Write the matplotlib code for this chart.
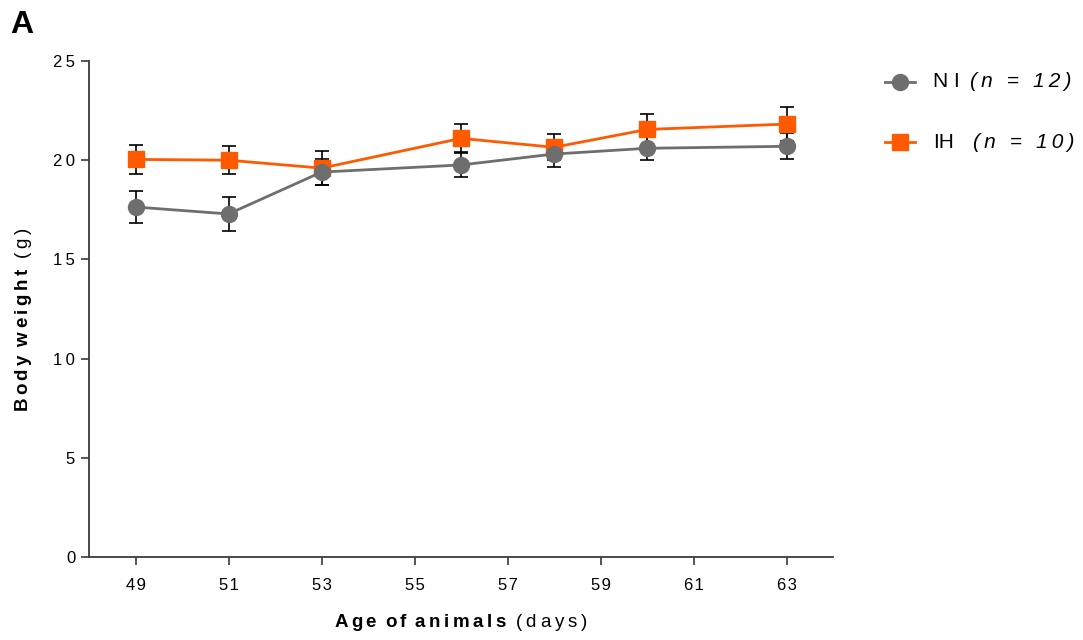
import matplotlib
matplotlib.use("Agg")
import matplotlib.pyplot as plt
from matplotlib.lines import Line2D

plt.rcParams['font.family'] = ['Liberation Sans', 'DejaVu Sans']
plt.rcParams['mathtext.fontset'] = 'custom'
plt.rcParams['mathtext.rm'] = 'Liberation Sans'
plt.rcParams['mathtext.it'] = 'Liberation Sans:italic'
plt.rcParams['mathtext.bf'] = 'Liberation Sans:bold'

# ---- data ----
days = [49, 51, 53, 56, 58, 60, 63]
ni_mean = [17.64, 17.29, 19.40, 19.76, 20.31, 20.60, 20.70]
ni_sem = [0.83, 0.85, 0.65, 0.60, 0.65, 0.60, 0.65]
ih_mean = [20.04, 20.00, 19.60, 21.10, 20.65, 21.55, 21.82]
ih_sem = [0.75, 0.72, 0.85, 0.70, 0.65, 0.78, 0.87]

xticks = [49, 51, 53, 55, 57, 59, 61, 63]
yticks = [0, 5, 10, 15, 20, 25]

gray = '#6e6e6e'
orange = '#ff5a00'
axcol = '#3a3a3a'
THIN = '\u2009'
HAIR = '\u200a'


def spaced(s, sep=THIN):
    # the original uses wide letter spacing everywhere
    return sep.join(s)


def math_spaced(s, bold=False):
    words = [r'\:'.join(w) for w in s.split(' ')]
    body = r'\ \:'.join(words)
    if bold:
        return r'$\mathbf{' + body + '}$'
    return '$' + body + '$'


fig = plt.figure(figsize=(10.83, 6.4), dpi=100)
ax = fig.add_axes([0.0822, 0.1297, 0.687, 0.775])

# error bars first, then the lines with markers on top
ax.errorbar(days, ih_mean, yerr=ih_sem, fmt='none', ecolor='black',
            elinewidth=1.2, capsize=5, capthick=1.2, zorder=2)
ax.errorbar(days, ni_mean, yerr=ni_sem, fmt='none', ecolor='black',
            elinewidth=1.2, capsize=5, capthick=1.2, zorder=2)
ax.plot(days, ih_mean, color=orange, lw=2, marker='s', ms=11, zorder=3)
ax.plot(days, ni_mean, color=gray, lw=2, marker='o', ms=11.5, zorder=4)

ax.set_xlim(48, 64)
ax.set_ylim(0, 25)
ax.set_xticks(xticks)
ax.set_xticklabels([spaced(str(t), HAIR) for t in xticks])
ax.set_yticks(yticks)
ax.set_yticklabels([spaced(str(t)) for t in yticks])

for s in ['top', 'right']:
    ax.spines[s].set_visible(False)
for s in ['left', 'bottom']:
    ax.spines[s].set_color(axcol)
    ax.spines[s].set_linewidth(1.3)
ax.tick_params(axis='both', colors=axcol, labelcolor='black', width=1.2)
ax.tick_params(axis='x', length=6, pad=9, labelsize=12)
ax.tick_params(axis='y', length=6, pad=4, labelsize=12)

ax.set_xlabel(math_spaced('Age of animals', bold=True) + '  '
              + spaced('(days)'), fontsize=13.5, labelpad=14)
ax.set_ylabel(math_spaced('Body weight', bold=True) + '  '
              + spaced('(g)'), fontsize=13.5)
ax.yaxis.set_label_coords(-0.074, 0.478)

fig.text(0.009, 0.948, 'A', fontsize=23, fontweight='bold')

# legend drawn by hand so that the "(n = ..)" part can be italic
rows = [
    (0.872, gray, 'o', 11.5, 'N I', '(n = 12)', 0.8957),
    (0.778, orange, 's', 11, 'IH', '(n = 10)', 0.8984),
]
for y, col, mk, ms, name, ntxt, xn in rows:
    fig.add_artist(Line2D([0.817, 0.845], [y, y], color=col, lw=2,
                          transform=fig.transFigure))
    fig.add_artist(Line2D([0.831], [y], color=col, marker=mk, ms=ms,
                          lw=0, transform=fig.transFigure))
    fig.text(0.8615, y, name, fontsize=15, va='center')
    fig.text(xn, y, spaced(ntxt), fontsize=15, va='center',
             style='italic')

fig.savefig('out.png', dpi=100)
